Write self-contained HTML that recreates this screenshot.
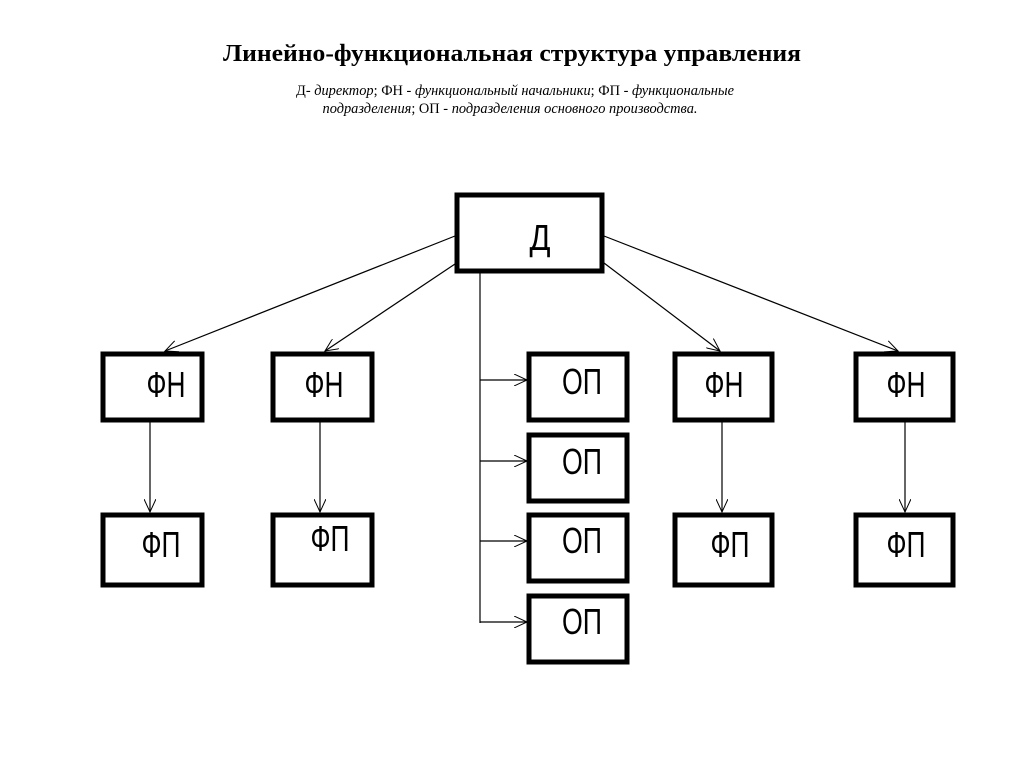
<!DOCTYPE html>
<html><head><meta charset="utf-8"><style>
html,body{margin:0;padding:0;background:#fff;}
svg{display:block;}
</style></head><body>
<svg width="1024" height="767" viewBox="0 0 1024 767" xmlns="http://www.w3.org/2000/svg">
<defs>
<marker id="a" markerWidth="14" markerHeight="12" refX="13" refY="6" orient="auto" markerUnits="userSpaceOnUse">
<path d="M0,0 L13,6 L0,12" fill="none" stroke="#000" stroke-width="1"/>
</marker>
</defs>
<text x="512" y="61" text-anchor="middle" font-family="Liberation Serif, serif" font-weight="bold" font-size="24" textLength="578" lengthAdjust="spacingAndGlyphs">Линейно-функциональная структура управления</text>
<text x="515" y="95" text-anchor="middle" font-family="Liberation Serif, serif" font-size="14.5" textLength="438" lengthAdjust="spacingAndGlyphs">Д- <tspan font-style="italic">директор</tspan>; ФН - <tspan font-style="italic">функциональный начальники</tspan>; ФП - <tspan font-style="italic">функциональные</tspan></text>
<text x="510" y="113" text-anchor="middle" font-family="Liberation Serif, serif" font-size="14.5" textLength="375" lengthAdjust="spacingAndGlyphs"><tspan font-style="italic">подразделения</tspan>; ОП - <tspan font-style="italic">подразделения основного производства.</tspan></text>

<g fill="none" stroke="#000" stroke-width="1.2">
<line x1="455" y1="236" x2="165" y2="351" marker-end="url(#a)"/>
<line x1="455" y1="264" x2="325" y2="351" marker-end="url(#a)"/>
<line x1="604" y1="236" x2="898" y2="351" marker-end="url(#a)"/>
<line x1="604" y1="263" x2="720" y2="351" marker-end="url(#a)"/>
<line x1="480" y1="272" x2="480" y2="623"/>
<line x1="480" y1="380" x2="527" y2="380" marker-end="url(#a)"/>
<line x1="480" y1="461" x2="527" y2="461" marker-end="url(#a)"/>
<line x1="480" y1="541" x2="527" y2="541" marker-end="url(#a)"/>
<line x1="480" y1="622" x2="527" y2="622" marker-end="url(#a)"/>
<line x1="150" y1="422" x2="150" y2="512" marker-end="url(#a)"/>
<line x1="320" y1="422" x2="320" y2="512" marker-end="url(#a)"/>
<line x1="722" y1="422" x2="722" y2="512" marker-end="url(#a)"/>
<line x1="905" y1="422" x2="905" y2="512" marker-end="url(#a)"/>
</g>

<g fill="#fff" stroke="#000" stroke-width="5">
<rect x="457" y="195" width="145" height="76"/>
<rect x="103" y="354" width="99" height="66"/>
<rect x="273" y="354" width="99" height="66"/>
<rect x="675" y="354" width="97" height="66"/>
<rect x="856" y="354" width="97" height="66"/>
<rect x="103" y="515" width="99" height="70"/>
<rect x="273" y="515" width="99" height="70"/>
<rect x="675" y="515" width="97" height="70"/>
<rect x="856" y="515" width="97" height="70"/>
<rect x="529" y="354" width="98" height="66"/>
<rect x="529" y="435" width="98" height="66"/>
<rect x="529" y="515" width="98" height="66"/>
<rect x="529" y="596" width="98" height="66"/>
</g>

<g font-family="Liberation Sans, sans-serif" font-size="36" text-anchor="middle" fill="#000" lengthAdjust="spacingAndGlyphs">
<text x="540" y="250" textLength="21" lengthAdjust="spacingAndGlyphs">Д</text>
<text x="166" y="397" textLength="39" lengthAdjust="spacingAndGlyphs">ФН</text>
<text x="324" y="397" textLength="39" lengthAdjust="spacingAndGlyphs">ФН</text>
<text x="724" y="397" textLength="39" lengthAdjust="spacingAndGlyphs">ФН</text>
<text x="906" y="397" textLength="39" lengthAdjust="spacingAndGlyphs">ФН</text>
<text x="161" y="557" textLength="39" lengthAdjust="spacingAndGlyphs">ФП</text>
<text x="330" y="551" textLength="39" lengthAdjust="spacingAndGlyphs">ФП</text>
<text x="730" y="557" textLength="39" lengthAdjust="spacingAndGlyphs">ФП</text>
<text x="906" y="557" textLength="39" lengthAdjust="spacingAndGlyphs">ФП</text>
<text x="582" y="394" textLength="40" lengthAdjust="spacingAndGlyphs">ОП</text>
<text x="582" y="474" textLength="40" lengthAdjust="spacingAndGlyphs">ОП</text>
<text x="582" y="553" textLength="40" lengthAdjust="spacingAndGlyphs">ОП</text>
<text x="582" y="634" textLength="40" lengthAdjust="spacingAndGlyphs">ОП</text>
</g>
</svg>
</body></html>
